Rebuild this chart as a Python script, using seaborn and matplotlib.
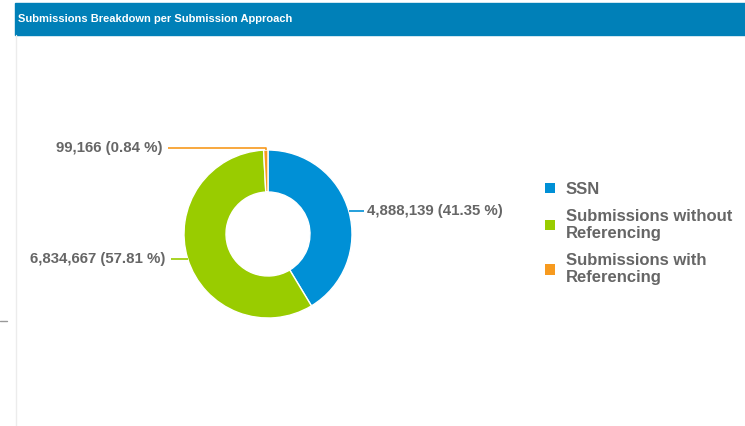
import numpy as np
import matplotlib
matplotlib.use('Agg')
import matplotlib.pyplot as plt
from matplotlib.patches import Patch, Rectangle
from matplotlib.lines import Line2D
import seaborn as sns

# data
categories = ['SSN', 'Submissions without\nReferencing', 'Submissions with\nReferencing']
counts = [4888139, 6834667, 99166]
percents = [41.35, 57.81, 0.84]
colors = ['#0090D6', '#99CC00', '#F79A1E']

sns.set_theme(style='white')
plt.rcParams['font.family'] = ['Liberation Sans', 'DejaVu Sans']

W, H = 745, 426
fig = plt.figure(figsize=(W / 100, H / 100), dpi=100)

# title bar
fig.patches.append(Rectangle((15 / W, 1 - 35 / H), 1 - 15 / W, 32 / H,
                             transform=fig.transFigure, color='#0080B8', zorder=0))
fig.text(18 / W, 1 - 19 / H, 'Submissions Breakdown per Submission Approach',
         color='white', fontsize=8.0, fontweight='bold', va='center', ha='left')
# panel border + stray tick on the left
fig.add_artist(Line2D([15.5 / W, 15.5 / W], [0, 1 - 35 / H], color='#ececec', lw=1,
                      transform=fig.transFigure))
fig.add_artist(Line2D([0, 7 / W], [1 - 321 / H, 1 - 321 / H], color='#999999', lw=1,
                      transform=fig.transFigure))

# donut axes: center (268,234) px, outer radius 84 px
cx, cy, r, half = 268, 234, 84, 100
ax = fig.add_axes([(cx - half) / W, 1 - (cy + half) / H, 2 * half / W, 2 * half / H])

wedges, _ = ax.pie(counts, colors=colors, startangle=90, counterclock=False,
                   radius=1.0, wedgeprops=dict(width=0.5, edgecolor='white', linewidth=1))
lim = half / r
ax.set_xlim(-lim, lim)
ax.set_ylim(-lim, lim)
ax.set_aspect('equal')
ax.axis('off')

px = 1 / r  # one pixel in data units
fs = 10.8
for w, c, p, col in zip(wedges, counts, percents, colors):
    ang = np.deg2rad((w.theta1 + w.theta2) / 2)
    x0, y0 = np.cos(ang), np.sin(ang)
    label = f'{c:,} ({p:.2f} %)'
    if p < 5:
        ytop = 1.0 + 2.5 * px
        xend = -(cx - 168) * px
        ax.plot([x0, x0, xend], [y0, ytop, ytop], color=col, lw=1.2, clip_on=False,
                solid_capstyle='butt')
        ax.text(xend - 5 * px, ytop, label, ha='right', va='center', fontsize=fs,
                fontweight='bold', color='#666666', clip_on=False)
    elif x0 > 0:
        x1 = x0 + 15 * px
        ax.plot([x0, x1], [y0, y0], color=col, lw=1.2, clip_on=False, solid_capstyle='butt')
        ax.text(x1 + 3 * px, y0, label, ha='left', va='center', fontsize=fs,
                fontweight='bold', color='#666666', clip_on=False)
    else:
        x1 = x0 - 17 * px
        ax.plot([x0, x1], [y0, y0], color=col, lw=1.2, clip_on=False, solid_capstyle='butt')
        ax.text(x1 - 5 * px, y0, label, ha='right', va='center', fontsize=fs,
                fontweight='bold', color='#666666', clip_on=False)

handles = [Patch(facecolor=col, edgecolor='none') for col in colors]
leg = fig.legend(handles, categories, loc='upper left', bbox_to_anchor=(545 / W, 1 - 182 / H),
                 frameon=False, borderpad=0, borderaxespad=0, handlelength=0.6,
                 handleheight=0.6, handletextpad=0.65, labelspacing=0.72,
                 prop=dict(size=12, weight='bold'), labelcolor='#666666')
for t in leg.get_texts():
    t.set_linespacing(1.18)

fig.savefig('out.png', dpi=100)
